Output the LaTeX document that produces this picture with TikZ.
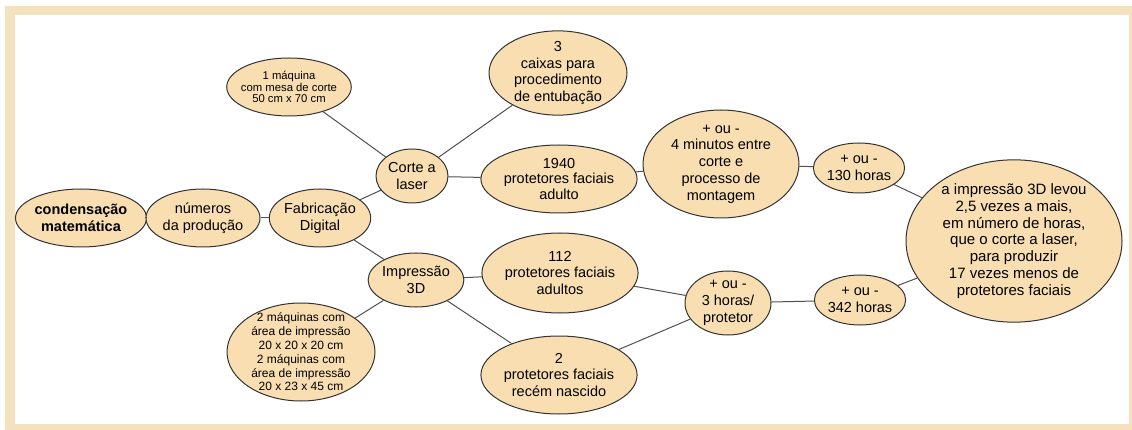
\documentclass[tikz,border=0pt]{standalone}
\usepackage{fontspec}
\setmainfont{Liberation Sans}
\usetikzlibrary{shapes.geometric}
\definecolor{framebeige}{HTML}{F3E2BD}
\definecolor{nodepeach}{HTML}{F9DEB2}
\definecolor{edgegray}{HTML}{505050}

\begin{document}
\begin{tikzpicture}[x=1pt,y=-1pt,
  idea/.style={draw=black!80,fill=nodepeach,ellipse,line width=1pt,
    inner sep=0pt,align=center,font=\fontsize{14.5}{16.8}\selectfont},
  small idea/.style={idea,font=\fontsize{11.3}{11.6}\selectfont},
  link/.style={draw=edgegray,line width=1pt}]

    % frame
    \fill[white] (0,0) rectangle (1132,430);
    \fill[framebeige] (5,6) rectangle (1132,430);
    \fill[white] (15,15) rectangle (1129,424);
    \useasboundingbox (0,0) rectangle (1132,430);

    % left chain
    \node (condensacao) [idea,minimum width=110pt,minimum height=58pt]
      at (81,218) {\textbf{condensação}\\\textbf{matemática}};
    \node (numeros_producao) [idea,minimum width=104pt,minimum height=58pt]
      at (203,218) {números\\da produção};
    \node (fabricacao_digital) [idea,minimum width=94pt,minimum height=58pt]
      at (320,218) {Fabricação\\Digital};

    % corte a laser branch
    \node (maquina_corte) [small idea,minimum width=105pt,minimum height=58pt,inner xsep=-4pt]
      at (289,87) {1 máquina\\com mesa de corte\\50 cm x 70 cm};
    \node (corte_laser) [idea,minimum width=72pt,minimum height=54pt]
      at (412,176) {Corte a\\laser};
    \node (caixas_entubacao) [idea,minimum width=138pt,minimum height=84pt,inner ysep=-2pt]
      at (558,73) {3\\caixas para\\procedimento\\de entubação};
    \node (protetores_adulto) [idea,minimum width=142pt,minimum height=68pt,
      font=\fontsize{14.5}{15.8}\selectfont]
      at (559,179) {1940\\protetores faciais\\adulto};
    \node (minutos_montagem) [idea,minimum width=156pt,minimum height=108pt,inner ysep=-2pt]
      at (721,164) {+ ou -\\4 minutos entre\\corte e\\processo de\\montagem};
    \node (horas_corte) [idea,minimum width=86pt,minimum height=50pt]
      at (859,168) {+ ou -\\130 horas};

    % impressao 3D branch
    \node (impressao_3d) [idea,minimum width=88pt,minimum height=54pt]
      at (416,280) {Impressão\\3D};
    \node (maquinas_impressao) [idea,minimum width=148pt,minimum height=98pt,
      inner ysep=-6pt,font=\fontsize{12}{13.8}\selectfont]
      at (301,352) {2 máquinas com\\área de impressão\\20 x 20 x 20 cm\\2 máquinas com\\área de impressão\\20 x 23 x 45 cm};
    \node (protetores_adultos) [idea,minimum width=140pt,minimum height=80pt]
      at (560,273) {112\\protetores faciais\\adultos};
    \node (protetores_recem) [idea,minimum width=140pt,minimum height=78pt]
      at (559,375) {2\\protetores faciais\\recém nascido};
    \node (horas_protetor) [idea,minimum width=86pt,minimum height=64pt,inner ysep=-1pt]
      at (728,303) {+ ou -\\3 horas/\\protetor};
    \node (horas_impressao) [idea,minimum width=84pt,minimum height=50pt]
      at (860,300) {+ ou -\\342 horas};

    % conclusion
    \node (conclusao) [idea,minimum width=216pt,minimum height=160pt,
      font=\fontsize{15}{16.8}\selectfont]
      at (1014,241) {a impressão 3D levou\\2,5 vezes a mais,\\em número de horas,\\que o corte a laser,\\para produzir\\17 vezes menos de\\protetores faciais};

    % connectors
    \draw[link] (condensacao) -- (numeros_producao);
    \draw[link] (numeros_producao) -- (fabricacao_digital);
    \draw[link] (fabricacao_digital) -- (corte_laser);
    \draw[link] (fabricacao_digital) -- (impressao_3d);
    \draw[link] (maquina_corte) -- (corte_laser);
    \draw[link] (corte_laser) -- (caixas_entubacao);
    \draw[link] (corte_laser) -- (protetores_adulto);
    \draw[link] (protetores_adulto) -- (minutos_montagem);
    \draw[link] (minutos_montagem) -- (horas_corte);
    \draw[link] (horas_corte) -- (conclusao);
    \draw[link] (impressao_3d) -- (maquinas_impressao);
    \draw[link] (impressao_3d) -- (protetores_adultos);
    \draw[link] (impressao_3d) -- (protetores_recem);
    \draw[link] (protetores_adultos) -- (horas_protetor);
    \draw[link] (protetores_recem) -- (horas_protetor);
    \draw[link] (horas_protetor) -- (horas_impressao);
    \draw[link] (horas_impressao) -- (conclusao);
\end{tikzpicture}
\end{document}
